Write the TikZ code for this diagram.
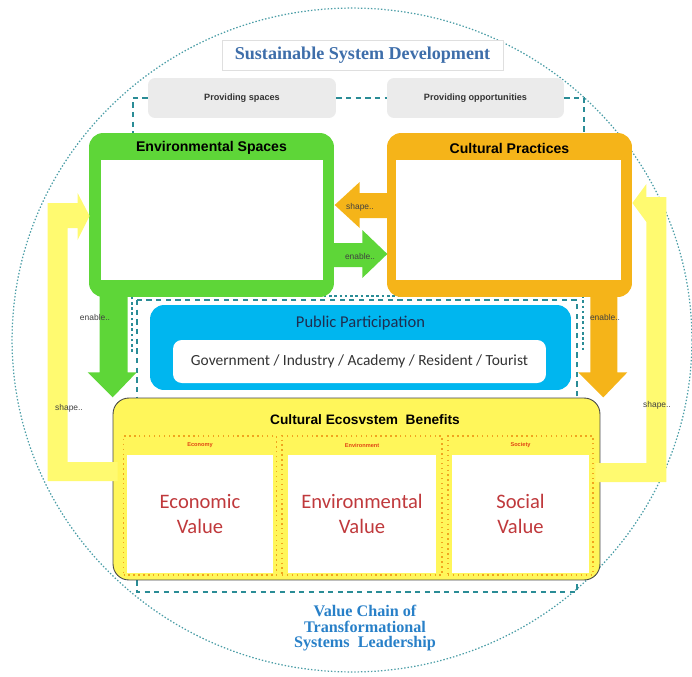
\documentclass[tikz,border=0pt]{standalone}
\usepackage{fontspec}
\setmainfont{Liberation Sans}
\newfontfamily\calibrifont{Carlito}
\newfontfamily\timesfont{Liberation Serif}
\usetikzlibrary{calc, positioning}

\definecolor{envGreen}{RGB}{94,214,56}
\definecolor{cultOrange}{RGB}{245,180,25}
\definecolor{partBlue}{RGB}{0,182,239}
\definecolor{partNavy}{RGB}{30,45,80}
\definecolor{benYellow}{RGB}{255,246,90}
\definecolor{arrowYellow}{RGB}{255,250,112}
\definecolor{chainTeal}{RGB}{42,140,150}
\definecolor{titleBlue}{RGB}{62,110,170}
\definecolor{chainBlue}{RGB}{40,128,200}
\definecolor{valueRed}{RGB}{192,57,60}
\definecolor{tagRed}{RGB}{225,70,20}
\definecolor{panelOrange}{RGB}{240,165,30}

\tikzset{
	chainline/.style={chainTeal, line width=1.3pt, dash pattern=on 3pt off 2.5pt},
	rim/.style={chainTeal!85, line width=0.7pt, dash pattern=on 0.8pt off 1.1pt},
	bigbox/.style={rounded corners=8pt, inner sep=0pt, minimum width=4.9cm, minimum height=3.28cm},
	innerbox/.style={fill=white, inner sep=0pt, minimum height=2.4cm},
	boxtitle/.style={font=\bfseries\fontsize{8}{9}\selectfont},
	greybox/.style={fill=gray!16, rounded corners=4pt, minimum height=0.8cm, inner sep=0pt, text=black!80, font=\bfseries\fontsize{5.2}{6}\selectfont},
	panel/.style={fill=benYellow, draw=panelOrange, dotted, line width=0.8pt, minimum height=2.78cm, inner sep=0pt},
	valuebox/.style={fill=white, minimum height=2.36cm, inner sep=0pt, align=center, text=valueRed, font=\calibrifont\fontsize{11.7}{14.2}\selectfont},
	tagtext/.style={text=tagRed, font=\bfseries\fontsize{3.2}{4}\selectfont},
	verb/.style={text=black!75, font=\fontsize{4.8}{5}\selectfont}
}

\begin{document}
\begin{tikzpicture}[x=0.02cm, y=-0.02cm]
	\useasboundingbox (0,0) rectangle (692,676);

	% outer ring
	\draw[rim] (352,340) ellipse [x radius=6.8cm, y radius=6.64cm];

	\node[draw=gray!25, fill=white, minimum width=5.62cm, minimum height=0.6cm, text=titleBlue,
		font=\timesfont\bfseries\fontsize{10.3}{12}\selectfont] (sustain) at (362.5,55) {Sustainable System Development};

	\node[greybox, minimum width=3.76cm] (spaces) at (242,98) {Providing spaces};
	\node[greybox, minimum width=3.54cm] (opps) at (475.5,98) {Providing opportunities};

	% value chain frame
	\coordinate (chainNW) at (137,300);
	\coordinate (chainSE) at (577,592);
	\draw[chainline] (chainNW) rectangle (chainSE);
	\draw[chainTeal, line width=1.1pt, dash pattern=on 1.5pt off 1.5pt] (132,352) -- (132,296) -- (583,296) -- (583,352);

	\node[bigbox, fill=envGreen] (envbox) at (211.5,215) {};
	\node[bigbox, fill=cultOrange] (cultbox) at (509.5,215) {};

	\draw[chainline] (spaces.west) -| ($(envbox.north west)+(44,0)$);
	\draw[chainline] (spaces.east) -- (opps.west);
	\draw[chainline] (opps.east) -| ($(cultbox.north east)+(-48,0)$);

	% enable.. arrows
	\fill[envGreen] ($(envbox.south west)+(11,-12)$) -- ++(0,87) -- ++(-12,0) -- ++(25,25) -- ++(24,-25) -- ++(-9,0) -- ++(0,-87) -- cycle;
	\fill[cultOrange] ($(cultbox.south east)+(-42,-12)$) -- ++(0,87) -- ++(-12,0) -- ++(25,25) -- ++(24,-25) -- ++(-10,0) -- ++(0,-87) -- cycle;
	\fill[envGreen] ($(envbox.east)+(-2,28)$) -- ++(30,0) -- ++(0,-13) -- ++(25,24) -- ++(-25,24) -- ++(0,-11) -- ++(-30,0) -- cycle;
	% shape.. arrows
	\fill[cultOrange] ($(cultbox.west)+(2,-22)$) -- ++(-29,0) -- ++(0,-11) -- ++(-25,23) -- ++(25,23) -- ++(0,-10) -- ++(29,0) -- cycle;

	\node[innerbox, minimum width=4.44cm] (envinner) at (212,220) {};
	\node[innerbox, minimum width=4.5cm] (cultinner) at (508.5,220) {};
	\node[boxtitle] (envtitle) at (211.5,148) {Environmental Spaces};
	\node[boxtitle] (culttitle) at (509.5,148) {Cultural Practices};

	\node[fill=partBlue, rounded corners=8pt, minimum width=8.42cm, minimum height=1.7cm] (part) at (360.5,347.5) {};
	\node[text=partNavy, font=\calibrifont\fontsize{9.4}{11}\selectfont] (parttitle) at (360.5,323) {Public Participation};
	\node[fill=white, rounded corners=5pt, minimum width=7.46cm, minimum height=0.86cm, text=black!80,
		font=\calibrifont\fontsize{8.8}{10}\selectfont] (actors) at (359.5,361.5) {Government / Industry / Academy / Resident / Tourist};

	\node[fill=benYellow, draw=gray!55!black, line width=0.5pt, rounded corners=9pt, minimum width=9.74cm, minimum height=3.64cm] (benefits) at (356.5,489) {};
	\node[font=\bfseries\fontsize{7.8}{9}\selectfont] (bentitle) at (365,420) {Cultural Ecosvstem~ Benefits};

	% the three values
	\foreach \cx/\bw/\iw/\tag/\val [count=\i] in {200/3.06/2.92/Economy/Economic, 362/3.2/2.98/Environment/Environmental, 520.5/2.9/2.76/Society/Social} {
		\node[panel, minimum width=\bw cm] (panel\i) at (\cx,505.5) {};
		\node[valuebox, minimum width=\iw cm] (value\i) at (\cx,514) {\val\\Value};
		\node[tagtext] (tag\i) at (\cx,445) {\tag};
	}

	% shape.. loops back to the two sides
	\fill[arrowYellow] ($(benefits.west)+(5,-27)$) -- ++(-50,0) -- ++(0,-234) -- ++(10,0) -- ++(0,12) -- ++(12,-24) -- ++(-12,-23) -- ++(0,10) -- ++(-30,0) -- ++(0,278) -- ++(70,0) -- cycle;
	\fill[arrowYellow] ($(benefits.east)+(-5,-26)$) -- ++(51,0) -- ++(0,-241) -- ++(-14,-19) -- ++(14,-19) -- ++(0,13) -- ++(20,0) -- ++(0,285) -- ++(-71,0) -- cycle;

	\node[verb] (en1) at (95,317) {enable..};
	\node[verb] (en2) at (605,317) {enable..};
	\node[verb] (en3) at (360,256) {enable..};
	\node[verb] (sh1) at (69,408) {shape..};
	\node[verb] (sh2) at (657,405) {shape..};
	\node[verb] (sh3) at (360,207) {shape..};

	\node[align=center, text=chainBlue, font=\timesfont\bfseries\fontsize{9.2}{8.8}\selectfont] (chain) at (365,628.5) {Value Chain of\\Transformational\\Systems~ Leadership};
\end{tikzpicture}
\end{document}
